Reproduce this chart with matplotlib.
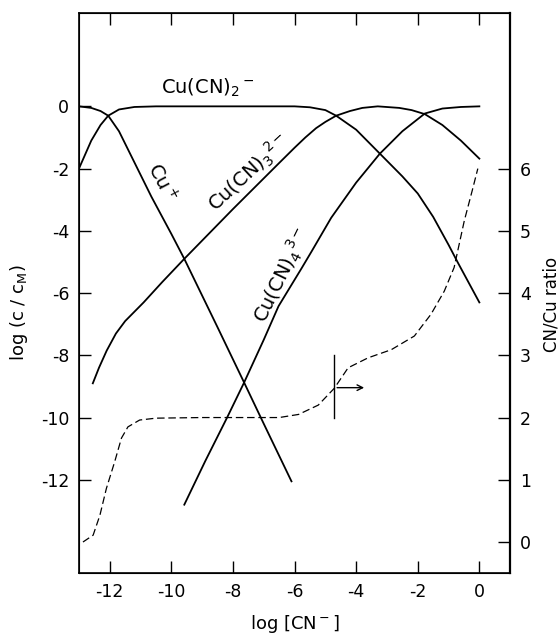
import matplotlib
matplotlib.use('Agg')
import matplotlib.pyplot as plt

# Значения (log [CN-] и log c/cM)
cu_x = [-13.0, -12.6, -12.3, -12.05, -11.7, -11.3, -10.65, -10.0, -9.58, -8.5, -7.65, -7.0, -6.1]
cu_y = [0.0, -0.05, -0.15, -0.3, -0.8, -1.6, -2.9, -4.1, -4.9, -7.1, -8.85, -10.2, -12.05]

cn2_x = [-13.0, -12.6, -12.3, -12.05, -11.7, -11.2, -10.5, -6.0, -5.5, -5.0, -4.65, -4.0,
         -3.23, -2.5, -2.0, -1.5, -1.0, -0.71, 0.0]
cn2_y = [-2.0, -1.1, -0.6, -0.3, -0.1, -0.02, 0.0, 0.0, -0.03, -0.12, -0.3, -0.75,
         -1.52, -2.25, -2.8, -3.55, -4.45, -5.0, -6.3]

cn3_x = [-12.55, -12.35, -12.1, -11.8, -11.5, -11.2, -10.9, -10.3, -9.6, -8.0, -6.5, -6.0,
         -5.65, -5.3, -5.0, -4.65, -4.2, -3.8, -3.3, -2.6, -2.2, -1.77, -1.2, -0.6, 0.0]
cn3_y = [-8.9, -8.4, -7.85, -7.3, -6.9, -6.6, -6.3, -5.65, -4.92, -3.3, -1.82, -1.33,
         -1.0, -0.7, -0.5, -0.3, -0.15, -0.05, 0.0, -0.05, -0.12, -0.25, -0.6, -1.1, -1.68]

cn4_x = [-9.58, -8.9, -8.19, -7.65, -7.0, -6.52, -5.77, -5.44, -4.81, -4.0, -3.23, -2.5,
         -1.77, -1.2, -0.6, 0.0]
cn4_y = [-12.8, -11.4, -10.0, -8.9, -7.5, -6.42, -5.2, -4.65, -3.58, -2.45, -1.52, -0.8,
         -0.23, -0.07, -0.02, 0.0]

# отношение CN/Cu (правая ось)
ratio_x = [-12.87, -12.54, -12.32, -12.11, -11.84, -11.62, -11.41, -11.03, -10.5, -9.0, -7.5,
           -6.5, -5.87, -5.23, -4.71, -4.26, -3.61, -2.86, -2.11, -1.57, -1.14, -0.82,
           -0.49, -0.23, -0.05]
ratio_y = [0.0, 0.11, 0.43, 0.86, 1.29, 1.67, 1.85, 1.96, 1.99, 2.0, 2.0,
           2.0, 2.05, 2.2, 2.47, 2.8, 2.96, 3.09, 3.31, 3.66, 4.03, 4.41,
           5.16, 5.65, 6.0]

x_ticks = [-12, -10, -8, -6, -4, -2, 0]
left_ticks = [0, -2, -4, -6, -8, -10, -12]
right_ticks = [0, 1, 2, 3, 4, 5, 6]

plt.rcParams['font.family'] = ['DejaVu Sans']
plt.rcParams['axes.unicode_minus'] = False
plt.rcParams['mathtext.default'] = 'regular'

fig = plt.figure(figsize=(5.6, 6.34), dpi=100)
ax = fig.add_axes([0.141, 0.096, 0.770, 0.8835])
ax2 = ax.twinx()

lw = 1.3
ax.plot(cu_x, cu_y, color='black', lw=lw)
ax.plot(cn2_x, cn2_y, color='black', lw=lw)
ax.plot(cn3_x, cn3_y, color='black', lw=lw)
ax.plot(cn4_x, cn4_y, color='black', lw=lw)

ax2.plot(ratio_x, ratio_y, color='black', lw=0.9, linestyle=(0, (6, 3)))

# метка и стрелка к правой оси
ax2.plot([-4.71, -4.71], [2.0, 3.0], color='black', lw=1.0)
ax2.annotate('', xy=(-3.65, 2.48), xytext=(-4.71, 2.48),
             arrowprops=dict(arrowstyle='->', color='black', lw=1.0))

ax.set_xlim(-13, 1)
ax.set_ylim(-15, 3)
ax2.set_ylim(-0.5, 8.5)

ax.set_xticks(x_ticks)
ax.set_xticklabels([str(t) for t in x_ticks])
ax.set_yticks(left_ticks)
ax.set_yticklabels([str(t) for t in left_ticks])
ax2.set_yticks(right_ticks)
ax2.set_yticklabels([str(t) for t in right_ticks])

ax.tick_params(axis='both', direction='in', length=8.5, width=1.0, labelsize=12.5, pad=7,
               top=True, right=False)
ax2.tick_params(axis='y', direction='in', length=8.5, width=1.0, labelsize=12.5, pad=7)

for sp in ax.spines.values():
    sp.set_linewidth(1.2)
ax2.spines['right'].set_linewidth(1.6)

# подписи кривых
fs = 14
ax.text(-8.8, 0.6, 'Cu(CN)$_2$$^-$', fontsize=fs, ha='center', va='center')
ax.text(-10.3, -2.45, 'Cu$^+$', fontsize=fs, ha='center', va='center', rotation=-62)
ax.text(-7.48, -2.15, 'Cu(CN)$_3$$^{2-}$', fontsize=fs, ha='center', va='center', rotation=43)
ax.text(-6.42, -5.45, 'Cu(CN)$_4$$^{3-}$', fontsize=fs, ha='center', va='center', rotation=64)

ax.set_xlabel('log [CN$^-$]', fontsize=13, labelpad=9)
ax.set_ylabel('log (c / c$_M$)', fontsize=13)
ax.yaxis.set_label_coords(-0.114, 0.464)
ax2.set_ylabel('CN/Cu ratio', fontsize=12)
ax2.yaxis.set_label_coords(1.075, 0.479)

fig.savefig('out.png', dpi=100)
